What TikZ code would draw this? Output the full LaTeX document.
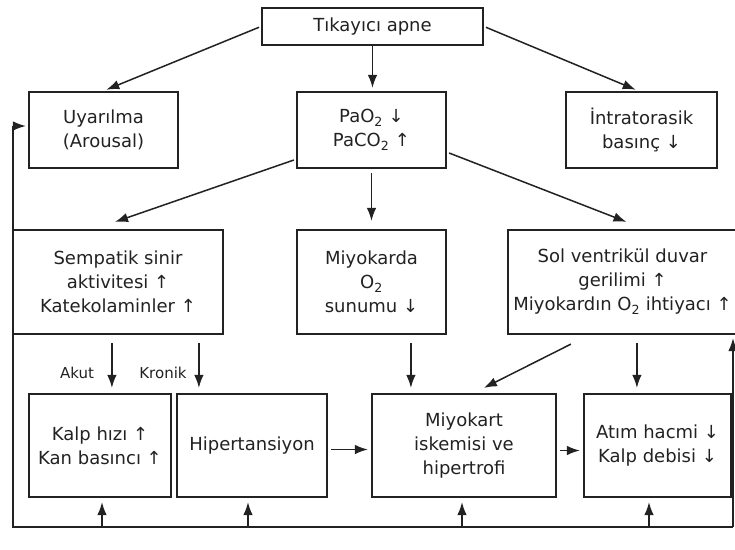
\documentclass[tikz,border=0pt]{standalone}
\usepackage{fontspec}
\setmainfont{DejaVu Sans}
\usetikzlibrary{calc,arrows.meta}
\definecolor{ink}{HTML}{222222}
\tikzset{
  box/.style={draw=ink, line width=2.2pt, align=center, inner sep=0pt,
              font=\fontsize{18}{24}\selectfont, text=ink},
  arr/.style={draw=ink, line width=1.5pt, -{Latex[length=13pt,width=9.5pt]}},
  lne/.style={draw=ink, line width=2pt},
  lbl/.style={font=\fontsize{15}{18}\selectfont, text=ink, inner sep=0pt}
}
\begin{document}
\begin{tikzpicture}[x=1pt,y=-1pt]
\useasboundingbox (0,0) rectangle (735,549);
\fill[white] (0,0) rectangle (735,549);
% row 0
\node[box, minimum width=221pt, minimum height=37pt] (top) at (372.5,26.5) {Tıkayıcı apne};
% row 1
\node[box, minimum width=149pt, minimum height=76pt] (uyar) at (103.5,130) {Uyarılma\\(Arousal)};
\node[box, minimum width=149pt, minimum height=76pt] (pao) at (371.5,130) {PaO\textsubscript{2} ↓\\PaCO\textsubscript{2} ↑};
\node[box, minimum width=151pt, minimum height=76pt] (intra) at (641.5,130) {İntratorasik\\basınç ↓};
% row 2
\node[box, minimum width=210pt, minimum height=104pt] (semp) at (118,282) {Sempatik sinir\\aktivitesi ↑\\Katekolaminler ↑};
\node[box, minimum width=149pt, minimum height=104pt] (miyo) at (371.5,282) {Miyokarda\\O\textsubscript{2}\\sunumu ↓};
\node[box, minimum width=229pt, minimum height=104pt] (sol) at (622.5,282) {Sol ventrikül duvar\\gerilimi ↑\\Miyokardın O\textsubscript{2} ihtiyacı ↑};
% row 3
\node[box, minimum width=142pt, minimum height=103pt] (kalp) at (100,445.5) {Kalp hızı ↑\\Kan basıncı ↑};
\node[box, minimum width=150pt, minimum height=103pt] (hyp) at (252,445.5) {Hipertansiyon};
\node[box, minimum width=184pt, minimum height=103pt] (miyk) at (464,445.5) {Miyokart\\iskemisi ve\\hipertrofi};
\node[box, minimum width=147pt, minimum height=103pt] (atim) at (657.5,445.5) {Atım hacmi ↓\\Kalp debisi ↓};
% labels
\node[lbl] (akut) at (77,373) {Akut};
\node[lbl] (kronik) at (163,373) {Kronik};
% arrows from top
\draw[arr, shorten <=2pt, shorten >=3pt] (top.west) -- (uyar.north);
\draw[arr, shorten >=3pt] (top.south) -- (top.south |- pao.north);
\draw[arr, shorten <=2pt, shorten >=3pt] (top.east) -- ($(intra.north)+(-3,0)$);
% arrows from PaO2
\draw[arr] ($(pao.west)+(-2,30)$) -- ($(semp.north)+(-3,-7)$);
\draw[arr, shorten <=4pt, shorten >=8pt] (pao.south) -- (pao.south |- miyo.north);
\draw[arr] ($(pao.east)+(2,23)$) -- ($(sol.north)+(4,-7)$);
% row 2 -> row 3
\draw[arr] ($(semp.south west)+(100,8)$) -- ($(kalp.north west)+(84,-5)$);
\draw[arr] ($(semp.south west)+(187,8)$) -- ($(hyp.north west)+(23,-5)$);
\draw[arr] ($(miyo.south west)+(115,8)$) -- ($(miyk.north west)+(40,-5)$);
\draw[arr] ($(sol.south west)+(64,9)$) -- ($(miyk.north west)+(113,-5)$);
\draw[arr] ($(sol.south west)+(130,8)$) -- ($(atim.north west)+(54,-5)$);
% row 3 horizontal
\draw[arr] ($(hyp.east)+(3,4)$) -- ($(miyk.west)+(-3,4)$);
\draw[arr] ($(miyk.east)+(3,5)$) -- ($(atim.west)+(-3,5)$);
% feedback loop
\coordinate (bl) at (13,527);
\coordinate (br) at (733,527);
\coordinate (ul) at (13,126);
\coordinate (u1) at (102,527);
\coordinate (u2) at (248,527);
\coordinate (u3) at (462,527);
\coordinate (u4) at (649,527);
\draw[lne] (br) -- (bl) -- (ul);
\draw[arr, shorten >=2pt] (ul) -- (ul -| uyar.west);
\draw[arr, shorten >=3pt] (br) -- (br |- sol.south);
\draw[arr, shorten >=4pt] (u1) -- (u1 |- kalp.south);
\draw[arr, shorten >=4pt] (u2) -- (u2 |- hyp.south);
\draw[arr, shorten >=4pt] (u3) -- (u3 |- miyk.south);
\draw[arr, shorten >=4pt] (u4) -- (u4 |- atim.south);
\end{tikzpicture}
\end{document}
